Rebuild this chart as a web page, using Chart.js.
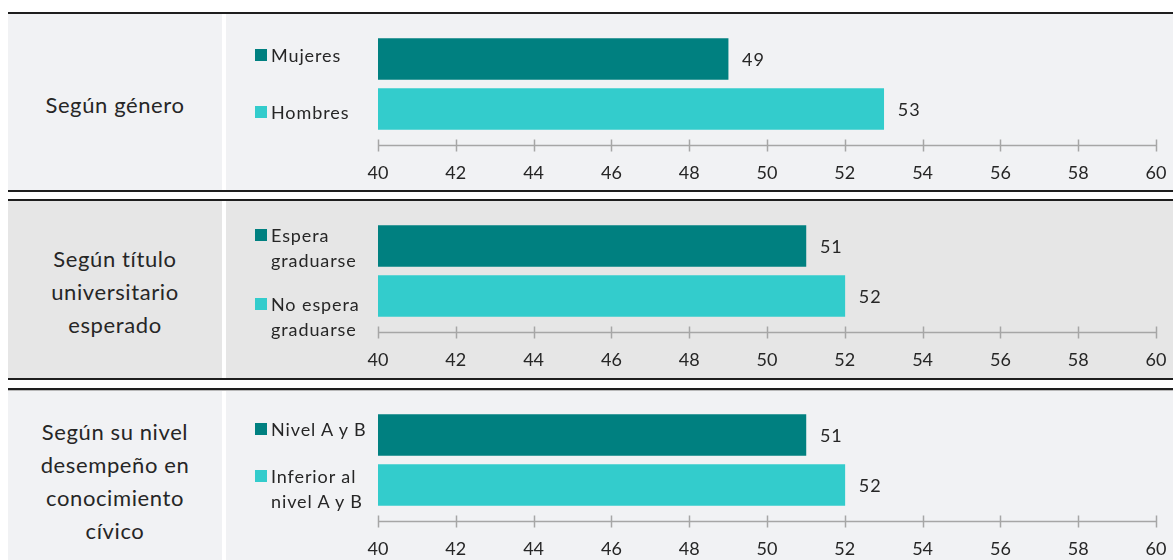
<!DOCTYPE html>
<html><head><meta charset="utf-8">
<script src="https://cdn.jsdelivr.net/npm/chart.js@4.4.0/dist/chart.umd.min.js"></script>
<style>
html,body{margin:0;padding:0;background:#fff;}
#root{position:relative;width:1173px;height:560px;overflow:hidden;font-family:Lato,"Noto Sans",sans-serif;color:#262626;}
.rule{position:absolute;left:8px;right:0;height:2px;background:#1e1e1e;}
.bg{position:absolute;}
.cellL{position:absolute;left:8px;width:214px;display:flex;flex-direction:column;align-items:center;justify-content:center;text-align:center;font-size:22px;line-height:33px;letter-spacing:0.6px;}
.cellR{position:absolute;left:226px;width:947px;}
.leg{position:absolute;left:255px;font-size:18px;line-height:25px;letter-spacing:0.9px;}
.sq{position:absolute;left:0;top:6.5px;width:12px;height:12px;}
.legtxt{position:absolute;left:16px;top:0;white-space:nowrap;}
canvas{position:absolute;left:0;top:0;}
</style>
</head><body>
<div id="root"></div>
<script>
// ---- data ----
const panelTitles = [
  ["Según género"],
  ["Según título", "universitario", "esperado"],
  ["Según su nivel", "desempeño en", "conocimiento", "cívico"]
];
const categoriesGenero = [["Mujeres"], ["Hombres"]];
const categoriesTitulo = [["Espera", "graduarse"], ["No espera", "graduarse"]];
const categoriesNivel = [["Nivel A y B"], ["Inferior al", "nivel A y B"]];
const valuesGenero = [49, 53];
const valuesTitulo = [51, 52];
const valuesNivel = [51, 52];
const xTickLabels = [40, 42, 44, 46, 48, 50, 52, 54, 56, 58, 60];

// ---- style / layout ----
const barColors = ["#008080", "#33cccc"];
const textColor = "#262626";
const axisColor = "#a6a6a6";
const panels = [
  {title: panelTitles[0], cats: categoriesGenero, vals: valuesGenero, top: 14, bottom: 190, bg: "#f1f2f4", legCenters: [55, 112], titleShift: 2},
  {title: panelTitles[1], cats: categoriesTitulo, vals: valuesTitulo, top: 201, bottom: 378, bg: "#e6e6e6", legCenters: [235, 304], titleShift: 2},
  {title: panelTitles[2], cats: categoriesNivel, vals: valuesNivel, top: 390, bottom: 560, bg: "#f1f2f4", legCenters: [429, 476], titleShift: 6}
];
const rules = [12, 190, 199, 378, 388];
const AXIS_Y = 131;

const root = document.getElementById('root');
rules.forEach(y => {
  const d = document.createElement('div'); d.className = 'rule'; d.style.top = y + 'px'; root.appendChild(d);
});
const g = document.createElement('div'); g.className='bg';
g.style.cssText='left:8px;right:0;top:390px;height:1px;background:#b8b8b8;';

const axisPlugin = {
  id: 'axisCross',
  beforeDatasetsDraw(chart) {
    const ctx = chart.ctx, xs = chart.scales.x, y = Math.round(chart.chartArea.bottom) + 0.5;
    ctx.save();
    ctx.strokeStyle = axisColor; ctx.lineWidth = 1.5;
    ctx.beginPath();
    ctx.moveTo(xs.getPixelForValue(xs.min), y); ctx.lineTo(xs.getPixelForValue(xs.max), y);
    xs.ticks.forEach(t => {
      const x = Math.round(xs.getPixelForValue(t.value)) + 0.5;
      ctx.moveTo(x, y - 6); ctx.lineTo(x, y + 6);
    });
    ctx.stroke();
    ctx.restore();
  }
};
const valuePlugin = {
  id: 'barValues',
  afterDatasetsDraw(chart) {
    const ctx = chart.ctx, ds = chart.data.datasets[0];
    ctx.save();
    ctx.font = '18px Lato';
    ctx.fillStyle = textColor;
    ctx.textAlign = 'left'; ctx.textBaseline = 'middle';
    try { ctx.letterSpacing = '1px'; } catch(e) {}
    chart.getDatasetMeta(0).data.forEach((bar, i) => {
      ctx.fillText(String(ds.data[i].x), bar.x + 14, bar.y + 1);
    });
    ctx.restore();
  }
};

panels.forEach((p, pi) => {
  const H = p.bottom - p.top;
  const left = document.createElement('div'); left.className = 'bg';
  left.style.cssText = `left:8px;width:214px;top:${p.top}px;height:${H}px;background:${p.bg};`;
  root.appendChild(left);
  const right = document.createElement('div'); right.className = 'cellR';
  right.style.cssText += `top:${p.top}px;height:${H}px;background:${p.bg};`;
  root.appendChild(right);

  const t = document.createElement('div'); t.className = 'cellL';
  t.style.top = (p.top + p.titleShift) + 'px'; t.style.height = H + 'px';
  p.title.forEach(line => { const s = document.createElement('div'); s.textContent = line; t.appendChild(s); });
  root.appendChild(t);

  p.cats.forEach((lines, i) => {
    const it = document.createElement('div'); it.className = 'leg';
    it.style.top = (p.legCenters[i] - 12.5) + 'px';
    const sq = document.createElement('div'); sq.className = 'sq'; sq.style.background = barColors[i];
    const tx = document.createElement('div'); tx.className = 'legtxt';
    tx.innerHTML = lines.map(l => l.replace(/&/g,'&amp;')).join('<br>');
    it.appendChild(sq); it.appendChild(tx); root.appendChild(it);
  });

  const cv = document.createElement('canvas');
  cv.width = 947; cv.height = H; cv.style.width = '947px'; cv.style.height = H + 'px';
  right.appendChild(cv);

  new Chart(cv, {
    type: 'bar',
    data: {
      datasets: [{
        data: p.vals.map((v, i) => ({x: v, y: i})),
        backgroundColor: barColors,
        borderWidth: 0,
        barThickness: 41
      }]
    },
    options: {
      indexAxis: 'y',
      responsive: false,
      animation: false,
      devicePixelRatio: 1,
      layout: {padding: {left: 152, right: 17, top: 20, bottom: 0}},
      plugins: {legend: {display: false}, tooltip: {enabled: false}},
      scales: {
        y: {type: 'linear', display: false, reverse: true, offset: false, min: -0.5, max: 1.72},
        x: {
          type: 'linear', position: 'bottom', min: xTickLabels[0], max: xTickLabels[xTickLabels.length - 1],
          grid: {display: false, drawTicks: false},
          border: {display: false},
          ticks: {color: textColor, font: {family: 'Lato', size: 18}, padding: 17, maxRotation: 0, autoSkip: false},
          afterBuildTicks(s) { s.ticks = xTickLabels.map(v => ({value: v})); },
          afterFit(s) { s.height = H - AXIS_Y; s.paddingLeft = 0; s.paddingRight = 0; }
        }
      }
    },
    plugins: [axisPlugin, valuePlugin]
  });
});
root.appendChild(g);
</script>
</body></html>
